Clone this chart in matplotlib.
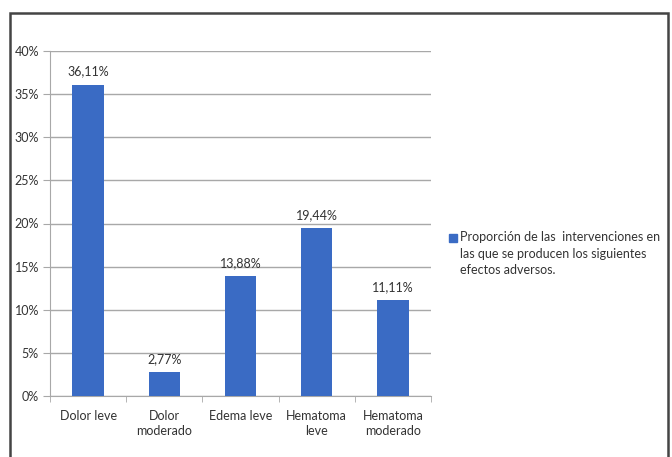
import matplotlib
matplotlib.use("Agg")
import matplotlib.pyplot as plt
from matplotlib.patches import Rectangle
from matplotlib.ticker import FuncFormatter

categories = ["Dolor leve", "Dolor\nmoderado", "Edema leve", "Hematoma\nleve", "Hematoma\nmoderado"]
values = [36.11, 2.77, 13.88, 19.44, 11.11]
value_labels = ["36,11%", "2,77%", "13,88%", "19,44%", "11,11%"]
yticks = [0, 5, 10, 15, 20, 25, 30, 35, 40]
legend_label = "Proporción de las  intervenciones en\nlas que se producen los siguientes\nefectos adversos."

plt.rcParams['font.family'] = ['Lato', 'DejaVu Sans']
bar_color = "#3A6BC4"
text_color = "#333333"
fs = 9

fig = plt.figure(figsize=(6.72, 4.57), dpi=100)
fig.patch.set_facecolor("white")
W, H = 672, 457
ax = fig.add_axes([50 / W, 1 - 396 / H, (431 - 50) / W, (396 - 51) / H])

x = list(range(len(categories)))
ax.bar(x, values, width=0.41, color=bar_color, zorder=3)
for xi, v, lab in zip(x, values, value_labels):
    ax.annotate(lab, (xi, v), xytext=(0, 5), textcoords="offset points",
                ha="center", va="bottom", fontsize=fs, color=text_color)

ax.set_xlim(-0.5, len(categories) - 0.5)
ax.set_ylim(0, 40)
ax.set_yticks(yticks)
ax.yaxis.set_major_formatter(FuncFormatter(lambda v, p: f"{int(v)}%"))
ax.grid(axis="y", color="#a8a8a8", linewidth=1.0, zorder=0)
ax.set_xticks(x)
ax.set_xticklabels(categories, fontsize=fs, color=text_color, linespacing=1.3)
ax.set_xticks([i + 0.5 for i in range(-1, len(categories))], minor=True)
ax.tick_params(axis="x", which="major", length=0, pad=10)
ax.tick_params(axis="x", which="minor", length=4, color="#a8a8a8")
ax.tick_params(axis="y", length=5, color="#a8a8a8", labelsize=fs, labelcolor=text_color, pad=3)
for s in ["top", "right"]:
    ax.spines[s].set_visible(False)
for s in ["left", "bottom"]:
    ax.spines[s].set_color("#a8a8a8")

# legend (handle aligned with first line)
fig.patches.append(Rectangle((449 / W, 1 - 242 / H), 8 / W, 8 / H,
                             transform=fig.transFigure, color=bar_color))
fig.text(460 / W, 1 - 231 / H, legend_label, ha="left", va="top",
         fontsize=fs, color=text_color, linespacing=1.45)

# outer frame
fig.patches.append(Rectangle((10 / W, -0.05), (668 - 10) / W, 0.05 + 1 - 13 / H,
                             transform=fig.transFigure, fill=False,
                             edgecolor="#444444", linewidth=1.8))

fig.savefig("out.png", dpi=100)
